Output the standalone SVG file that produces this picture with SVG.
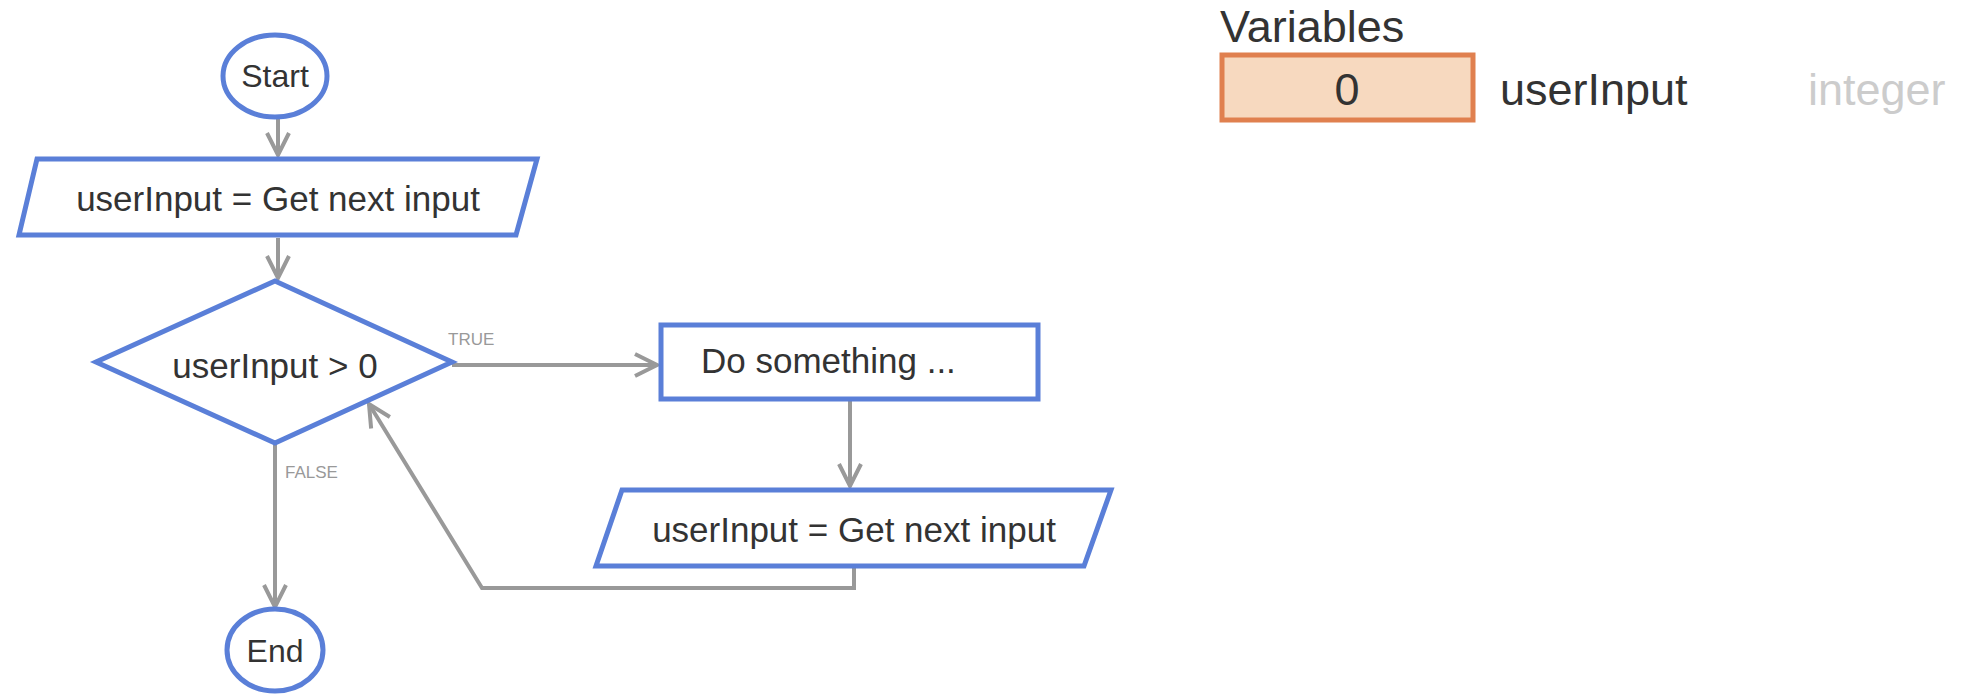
<svg xmlns="http://www.w3.org/2000/svg" width="1962" height="700" viewBox="0 0 1962 700">
<style>
.n{fill:#fff;stroke:#5a7fd8;stroke-width:5}
.t{font-family:"Liberation Sans",Arial,sans-serif;font-size:35px;fill:#333;dominant-baseline:central}
.c{fill:none;stroke:#999;stroke-width:4}
.l{font-family:"Liberation Sans",Arial,sans-serif;font-size:17px;fill:#999}
.v{font-size:45px}
</style>
<defs><marker id="b" markerWidth="26" markerHeight="26" refX="24" refY="13" orient="auto" markerUnits="userSpaceOnUse" viewBox="0 0 26 26"><path d="M2,2 L24,13 L2,24" fill="none" stroke="#999" stroke-width="4"/></marker></defs>
<g id="connectors">
<path class="c" d="M278,119 V155" marker-end="url(#b)"/>
<path class="c" d="M278,238 V278" marker-end="url(#b)"/>
<path class="c" d="M452,365 H657" marker-end="url(#b)"/>
<path class="c" d="M850,399 V486" marker-end="url(#b)"/>
<path class="c" d="M854,566 V588 H482 L369,404" marker-end="url(#b)"/>
<path class="c" d="M275,443 V607" marker-end="url(#b)"/>
<text class="l" x="448" y="345">TRUE</text>
<text class="l" x="285" y="478">FALSE</text>
</g>
<g id="start"><ellipse class="n" cx="275" cy="76" rx="52" ry="41"/><text class="t" x="275" y="76" text-anchor="middle" style="font-size:32px">Start</text></g>
<g id="input1"><polygon class="n" points="37,159 537,159 516,235 19,235"/><text class="t" x="278" y="198" text-anchor="middle">userInput = Get next input</text></g>
<g id="decision"><polygon class="n" points="275,281 452,362 275,443 96,362"/><text class="t" x="275" y="365" text-anchor="middle">userInput &gt; 0</text></g>
<g id="do"><rect class="n" x="661" y="325" width="377" height="74"/><text class="t" x="701" y="360">Do something ...</text></g>
<g id="input2"><polygon class="n" points="622,490 1111,490 1084,566 596,566"/><text class="t" x="854" y="529" text-anchor="middle">userInput = Get next input</text></g>
<g id="end"><ellipse class="n" cx="275" cy="650" rx="48" ry="41"/><text class="t" x="275" y="651" text-anchor="middle" style="font-size:32px">End</text></g>
<g id="variables">
<text class="t v" x="1220" y="26">Variables</text>
<rect x="1222" y="55" width="251" height="65" fill="#f7d9bf" stroke="#e0804f" stroke-width="5"/>
<text class="t v" x="1347" y="89" text-anchor="middle">0</text>
<text class="t v" x="1500" y="89">userInput</text>
<text class="t v" x="1808" y="89" style="fill:#ccc">integer</text>
</g>
</svg>
